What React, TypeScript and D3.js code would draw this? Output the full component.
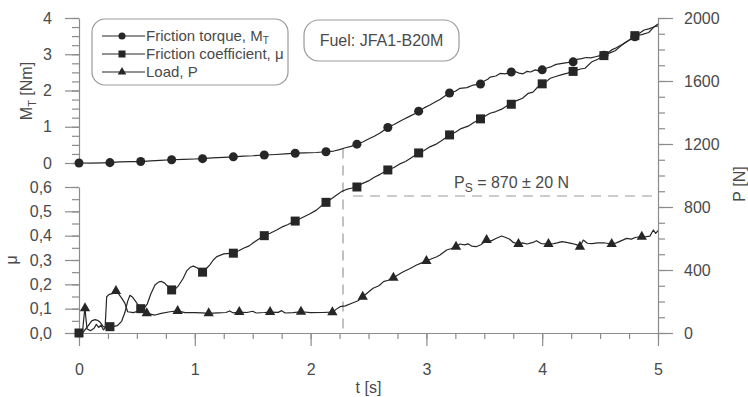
import React, { useEffect, useRef } from 'react'
import * as d3 from 'd3'

// marker positions (t in s)
const markTimes = [0, 0.267, 0.533, 0.8, 1.067, 1.333, 1.6, 1.867, 2.133, 2.4, 2.667, 2.933, 3.2, 3.467, 3.733, 4.0, 4.267, 4.533, 4.8]
const torqueMarks = [0, 0.01, 0.04, 0.09, 0.12, 0.17, 0.22, 0.27, 0.31, 0.52, 0.98, 1.43, 1.93, 2.18, 2.51, 2.57, 2.79, 2.97, 3.48]
const frictionMarks = [0, 0.026, 0.1, 0.177, 0.25, 0.328, 0.4, 0.46, 0.537, 0.6, 0.67, 0.74, 0.814, 0.88, 0.94, 1.024, 1.075, 1.14, 1.222]
const loadMarkTimes = [0.052, 0.319, 0.585, 0.852, 1.12, 1.384, 1.65, 1.917, 2.188, 2.45, 2.715, 3.0, 3.256, 3.52, 3.795, 4.054, 4.326, 4.6, 4.86]
const loadMarks = [157, 267, 125, 140, 125, 133, 133, 135, 132, 230, 351, 457, 548, 590, 565, 565, 548, 565, 611]

// friction torque M_T [Nm]
const torqueLine: [number, number][] = [
  [0, 0], [0.1, -0.005], [0.2, 0.005], [0.267, 0.01], [0.35, 0.03], [0.45, 0.04], [0.533, 0.04], [0.62, 0.06],
  [0.7, 0.075], [0.8, 0.09], [0.9, 0.1], [1.0, 0.11], [1.067, 0.12], [1.15, 0.14], [1.25, 0.155], [1.333, 0.17],
  [1.42, 0.19], [1.5, 0.2], [1.6, 0.22], [1.7, 0.235], [1.78, 0.25], [1.867, 0.27], [1.95, 0.28], [2.05, 0.29],
  [2.133, 0.31], [2.2, 0.33], [2.25, 0.37], [2.3, 0.42], [2.35, 0.46], [2.4, 0.52], [2.45, 0.58], [2.5, 0.66],
  [2.55, 0.74], [2.6, 0.83], [2.667, 0.98], [2.72, 1.06], [2.76, 1.13], [2.8, 1.2], [2.85, 1.28], [2.9, 1.36],
  [2.933, 1.43], [2.98, 1.52], [3.03, 1.6], [3.08, 1.69], [3.12, 1.76], [3.16, 1.85], [3.2, 1.93], [3.25, 1.98],
  [3.29, 2.06], [3.35, 2.08], [3.405, 2.15], [3.467, 2.18], [3.5, 2.26], [3.53, 2.31], [3.55, 2.37], [3.6, 2.4],
  [3.636, 2.47], [3.68, 2.46], [3.733, 2.51], [3.76, 2.53], [3.8, 2.48], [3.834, 2.46], [3.87, 2.53], [3.9, 2.51],
  [3.94, 2.57], [3.97, 2.54], [4.0, 2.57], [4.04, 2.62], [4.08, 2.66], [4.12, 2.72], [4.16, 2.74], [4.2, 2.76],
  [4.24, 2.78], [4.267, 2.79], [4.3, 2.86], [4.34, 2.88], [4.38, 2.91], [4.42, 2.9], [4.46, 2.93], [4.5, 2.96],
  [4.533, 2.98], [4.57, 3.05], [4.6, 3.12], [4.64, 3.18], [4.686, 3.26], [4.73, 3.35], [4.77, 3.42], [4.8, 3.48],
  [4.84, 3.58], [4.88, 3.67], [4.92, 3.7], [4.97, 3.76], [5.0, 3.78]
]

// friction coefficient mu [-]
const frictionLine: [number, number][] = [
  [0, 0], [0.037, 0.004], [0.08, 0.03], [0.11, 0.05], [0.138, 0.055], [0.16, 0.052], [0.181, 0.045], [0.21, 0.026],
  [0.238, 0.022], [0.267, 0.026], [0.3, 0.027], [0.33, 0.03], [0.368, 0.048], [0.397, 0.085], [0.42, 0.13],
  [0.44, 0.155], [0.46, 0.148], [0.483, 0.134], [0.51, 0.115], [0.533, 0.1], [0.56, 0.1], [0.59, 0.12], [0.62, 0.16],
  [0.656, 0.197], [0.69, 0.21], [0.714, 0.212], [0.74, 0.205], [0.77, 0.19], [0.8, 0.177], [0.83, 0.18], [0.86, 0.195],
  [0.9, 0.225], [0.93, 0.255], [0.96, 0.27], [0.987, 0.275], [1.02, 0.268], [1.067, 0.25], [1.1, 0.265], [1.13, 0.28],
  [1.16, 0.3], [1.19, 0.314], [1.25, 0.325], [1.333, 0.328], [1.38, 0.338], [1.42, 0.348], [1.47, 0.358], [1.505, 0.371],
  [1.55, 0.385], [1.6, 0.4], [1.65, 0.41], [1.707, 0.423], [1.75, 0.435], [1.8, 0.445], [1.867, 0.46], [1.93, 0.475],
  [1.995, 0.49], [2.05, 0.505], [2.1, 0.525], [2.133, 0.537], [2.18, 0.552], [2.225, 0.567], [2.27, 0.582], [2.31, 0.59],
  [2.35, 0.595], [2.4, 0.6], [2.45, 0.615], [2.5, 0.625], [2.55, 0.64], [2.6, 0.652], [2.667, 0.67], [2.72, 0.68],
  [2.77, 0.695], [2.82, 0.705], [2.87, 0.72], [2.933, 0.74], [2.98, 0.75], [3.03, 0.765], [3.08, 0.775], [3.13, 0.79],
  [3.2, 0.814], [3.25, 0.825], [3.3, 0.84], [3.36, 0.85], [3.41, 0.865], [3.467, 0.88], [3.52, 0.895], [3.55, 0.903],
  [3.6, 0.91], [3.65, 0.92], [3.7, 0.935], [3.733, 0.94], [3.78, 0.955], [3.83, 0.965], [3.88, 0.985], [3.92, 0.99],
  [3.96, 1.01], [4.0, 1.024], [4.04, 1.035], [4.07, 1.047], [4.11, 1.053], [4.17, 1.062], [4.22, 1.068], [4.267, 1.075],
  [4.33, 1.085], [4.37, 1.088], [4.43, 1.115], [4.48, 1.125], [4.533, 1.14], [4.58, 1.15], [4.63, 1.16], [4.68, 1.18],
  [4.74, 1.2], [4.8, 1.222], [4.86, 1.226], [4.92, 1.235], [4.97, 1.26], [5.0, 1.27]
]

// load P [N]
const loadLine: [number, number][] = [
  [0, 0], [0.03, 5], [0.045, 120], [0.052, 157], [0.06, 90], [0.07, 25], [0.1, 15], [0.13, 30], [0.15, 55],
  [0.17, 35], [0.19, 50], [0.21, 20], [0.225, 30], [0.239, 230], [0.26, 245], [0.29, 250], [0.319, 267], [0.345, 245],
  [0.37, 220], [0.397, 188], [0.42, 135], [0.47, 129], [0.54, 146], [0.585, 125], [0.656, 114], [0.71, 125],
  [0.786, 135], [0.852, 140], [0.915, 129], [1.0, 129], [1.06, 128], [1.12, 125], [1.2, 128], [1.27, 130], [1.3, 140],
  [1.33, 128], [1.384, 133], [1.45, 130], [1.5, 138], [1.53, 127], [1.6, 130], [1.65, 133], [1.72, 131], [1.75, 142],
  [1.78, 127], [1.85, 129], [1.917, 135], [2.0, 129], [2.1, 130], [2.188, 132], [2.22, 150], [2.254, 167], [2.3, 172],
  [2.34, 184], [2.41, 205], [2.45, 230], [2.5, 260], [2.54, 284], [2.59, 300], [2.63, 326], [2.67, 335], [2.715, 351],
  [2.76, 372], [2.8, 389], [2.86, 410], [2.915, 432], [2.96, 445], [3.0, 457], [3.04, 470], [3.09, 484], [3.117, 495],
  [3.175, 527], [3.21, 535], [3.256, 548], [3.29, 565], [3.33, 560], [3.36, 566], [3.39, 552], [3.43, 548], [3.47, 560],
  [3.52, 590], [3.56, 585], [3.6, 600], [3.65, 616], [3.69, 605], [3.72, 595], [3.75, 575], [3.795, 565], [3.83, 572],
  [3.87, 565], [3.92, 575], [3.95, 586], [3.99, 568], [4.054, 565], [4.1, 568], [4.13, 572], [4.17, 580], [4.21, 575],
  [4.26, 568], [4.3, 560], [4.326, 548], [4.355, 590], [4.39, 570], [4.43, 568], [4.48, 572], [4.53, 573], [4.6, 565],
  [4.64, 572], [4.68, 585], [4.73, 601], [4.77, 596], [4.81, 608], [4.86, 611], [4.9, 612], [4.93, 615], [4.96, 654],
  [4.98, 633], [5.0, 650]
]

const tTicks = [0, 1, 2, 3, 4, 5]
const mtTicks = [0, 1, 2, 3, 4]
const muTicks = [0, 0.1, 0.2, 0.3, 0.4, 0.5, 0.6]
const pTicks = [0, 400, 800, 1200, 1600, 2000]

const seizureTime = 2.28
const seizureTorque = 0.4
const seizureLoad = 870

const FONT = '"Liberation Sans", Arial, sans-serif'
const AXIS = '#8c8c8c'
const TEXT = '#4a4a4a'
const INK = '#262626'

export default function App() {
  const svgRef = useRef<SVGSVGElement>(null)

  useEffect(() => {
    const svg = d3.select(svgRef.current)
    svg.selectAll('*').remove()

    const x = d3.scaleLinear().domain([0, 5]).range([79, 658])
    const yM = d3.scaleLinear().domain([0, 4]).range([163, 18])
    const yMu = d3.scaleLinear().domain([0, 0.6]).range([333, 187])
    const yP = d3.scaleLinear().domain([0, 2000]).range([333, 18])

    const comma = (d: any) => d3.format('.1f')(d).replace('.', ',')
    const plain = (d: any) => String(d)

    const styleAxis = (g: any) => {
      g.attr('font-family', FONT).attr('font-size', 16)
      g.select('.domain').attr('stroke', AXIS).attr('stroke-width', 1.2)
      g.selectAll('line').attr('stroke', AXIS).attr('stroke-width', 1.2)
      g.selectAll('text').attr('fill', TEXT)
    }
    const minor = (g: any) => {
      g.select('.domain').remove()
      g.selectAll('line').attr('stroke', AXIS).attr('stroke-width', 1.2)
    }

    // x axis
    svg.append('g').attr('transform', 'translate(0,333)')
      .call(d3.axisBottom(x).tickValues(d3.range(0, 5.001, 0.25)).tickSize(6).tickFormat(() => '')).call(minor)
    svg.append('g').attr('transform', 'translate(0,333)')
      .call(d3.axisBottom(x).tickValues(tTicks).tickSize(13).tickPadding(18).tickSizeOuter(0).tickFormat(plain)).call(styleAxis)

    // left top: M_T
    svg.append('g').attr('transform', 'translate(79,0)')
      .call(d3.axisLeft(yM).tickValues(d3.range(0, 4.001, 0.25)).tickSize(7).tickFormat(() => '')).call(minor)
    svg.append('g').attr('transform', 'translate(79,0)')
      .call(d3.axisLeft(yM).tickValues(mtTicks).tickSize(14).tickPadding(13).tickSizeOuter(0).tickFormat(plain)).call(styleAxis)

    // left bottom: mu
    svg.append('g').attr('transform', 'translate(79,0)')
      .call(d3.axisLeft(yMu).tickValues(d3.range(0, 0.6001, 0.05)).tickSize(7).tickFormat(() => '')).call(minor)
    svg.append('g').attr('transform', 'translate(79,0)')
      .call(d3.axisLeft(yMu).tickValues(muTicks).tickSize(14).tickPadding(13).tickSizeOuter(0).tickFormat(comma)).call(styleAxis)

    // right: P
    svg.append('g').attr('transform', 'translate(658,0)')
      .call(d3.axisRight(yP).tickValues(d3.range(0, 2001, 100)).tickSize(7).tickFormat(() => '')).call(minor)
    svg.append('g').attr('transform', 'translate(658,0)')
      .call(d3.axisRight(yP).tickValues(pTicks).tickSize(15).tickPadding(11).tickSizeOuter(0).tickFormat(plain)).call(styleAxis)

    // axis titles
    const title = (tx: number, ty: number, rot: number) =>
      svg.append('text').attr('transform', `translate(${tx},${ty}) rotate(${rot})`)
        .attr('text-anchor', 'middle').attr('font-family', FONT).attr('font-size', 16).attr('fill', TEXT)
    const mt = title(32, 91, -90)
    mt.append('tspan').text('M')
    mt.append('tspan').text('T').attr('font-size', 11).attr('dy', 4)
    mt.append('tspan').text(' [Nm]').attr('dy', -4)
    title(17, 260, -90).text('μ')
    title(745, 184, -90).text('P [N]')
    title(x(2.5), 393, 0).text('t [s]')

    // seizure annotation
    svg.append('line')
      .attr('x1', x(seizureTime)).attr('x2', x(seizureTime))
      .attr('y1', yM(seizureTorque)).attr('y2', yP(0))
      .attr('stroke', '#9a9a9a').attr('stroke-width', 1.2).attr('stroke-dasharray', '10,7')
    svg.append('line')
      .attr('x1', x(seizureTime) + 10).attr('x2', x(5))
      .attr('y1', yP(seizureLoad)).attr('y2', yP(seizureLoad))
      .attr('stroke', '#9a9a9a').attr('stroke-width', 1.2).attr('stroke-dasharray', '10,7')
    const ps = svg.append('text').attr('x', 454).attr('y', yP(seizureLoad) - 8)
      .attr('font-family', FONT).attr('font-size', 16).attr('fill', TEXT)
    ps.append('tspan').text('P')
    ps.append('tspan').text('S').attr('font-size', 12).attr('dy', 4)
    ps.append('tspan').text(' = 870 ± 20 N').attr('dy', -4)

    // data lines
    const lineM = d3.line<[number, number]>().x(d => x(d[0])).y(d => yM(d[1]))
    const lineMu = d3.line<[number, number]>().x(d => x(d[0])).y(d => yMu(d[1]))
    const lineP = d3.line<[number, number]>().x(d => x(d[0])).y(d => yP(d[1]))
    ;[lineP(loadLine), lineMu(frictionLine), lineM(torqueLine)].forEach(dPath => {
      svg.append('path').attr('d', dPath).attr('fill', 'none').attr('stroke', INK)
        .attr('stroke-width', 1.2).attr('stroke-linejoin', 'round')
    })

    const circle = d3.symbol().type(d3.symbolCircle).size(64)
    const square = d3.symbol().type(d3.symbolSquare).size(81)
    const tri = d3.symbol().type(d3.symbolTriangle).size(46)

    const marks = (xs: number[], ys: number[], sym: any) =>
      svg.append('g').selectAll('path').data(xs).join('path')
        .attr('transform', (d, i) => `translate(${x(d)},${ys[i]})`)
        .attr('d', sym()).attr('fill', INK)
    marks(markTimes, torqueMarks.map(v => yM(v)), circle)
    marks(markTimes, frictionMarks.map(v => yMu(v)), square)
    marks(loadMarkTimes, loadMarks.map(v => yP(v)), tri)

    // legend
    svg.append('rect').attr('x', 92).attr('y', 19).attr('width', 196).attr('height', 66).attr('rx', 13)
      .attr('fill', 'white').attr('stroke', '#9a9a9a').attr('stroke-width', 1.2)
    const legendSyms = [
      d3.symbol().type(d3.symbolCircle).size(40),
      d3.symbol().type(d3.symbolSquare).size(49),
      d3.symbol().type(d3.symbolTriangle).size(32)
    ]
    const rows = [36, 54, 72]
    rows.forEach((ry, i) => {
      svg.append('line').attr('x1', 102).attr('x2', 145).attr('y1', ry).attr('y2', ry)
        .attr('stroke', INK).attr('stroke-width', 1.2)
      svg.append('path').attr('transform', `translate(122,${ry})`).attr('d', legendSyms[i]()).attr('fill', INK)
      const t = svg.append('text').attr('x', 146).attr('y', ry + 5)
        .attr('font-family', FONT).attr('font-size', 15).attr('fill', TEXT)
      if (i === 0) {
        t.append('tspan').text('Friction torque, M')
        t.append('tspan').text('T').attr('font-size', 10).attr('dy', 3)
      } else if (i === 1) {
        t.text('Friction coefficient, μ')
      } else {
        t.text('Load, P')
      }
    })

    // fuel box
    svg.append('rect').attr('x', 304).attr('y', 20).attr('width', 155).attr('height', 41).attr('rx', 15)
      .attr('fill', 'white').attr('stroke', '#9a9a9a').attr('stroke-width', 1.2)
    svg.append('text').attr('x', 381.5).attr('y', 46).attr('text-anchor', 'middle')
      .attr('font-family', FONT).attr('font-size', 16).attr('fill', TEXT).text('Fuel: JFA1-B20M')
  }, [])

  return (
    <svg ref={svgRef} width={748} height={397} style={{ position: 'absolute', left: 0, top: 0, background: 'white' }} />
  )
}
